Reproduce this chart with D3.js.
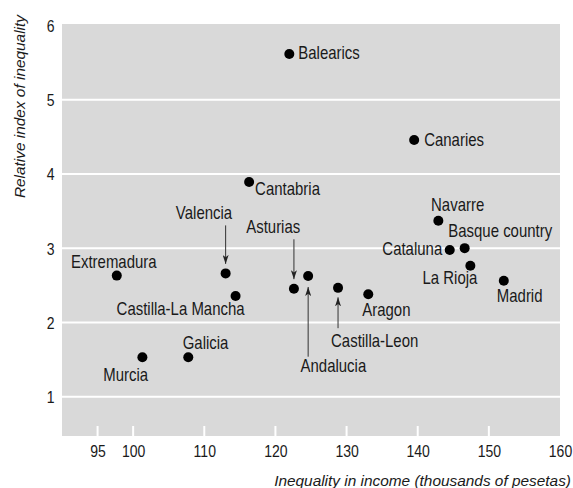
<!DOCTYPE html>
<html>
<head>
<meta charset="utf-8">
<script src="https://cdn.jsdelivr.net/npm/d3@7"></script>
<style>
  html, body { margin: 0; padding: 0; background: #fff; }
  svg { display: block; }
  text { font-family: "Liberation Sans", Arial, sans-serif; fill: #1a1a1a; }
</style>
</head>
<body>
<div id="chart"></div>
<script>
// Régions d'Espagne : revenu (milliers de pesetas) vs indice relatif d'inégalité
const regions = ["Balearics", "Canaries", "Cantabria", "Navarre", "Basque country", "Cataluna",
  "La Rioja", "Madrid", "Aragon", "Castilla-Leon", "Andalucia", "Asturias", "Valencia",
  "Castilla-La Mancha", "Extremadura", "Murcia", "Galicia"];
const income = [121.95, 139.5, 116.3, 142.9, 146.6, 144.5,
  147.4, 152.1, 133.05, 128.8, 124.6, 122.6, 113.0,
  114.4, 97.7, 101.3, 107.75];
const inequality = [5.615, 4.457, 3.89, 3.37, 3.0, 2.975,
  2.764, 2.56, 2.378, 2.465, 2.625, 2.454, 2.66,
  2.356, 2.63, 1.53, 1.53];
const xTicks = [95, 100, 110, 120, 130, 140, 150, 160];
const yTicks = [1, 2, 3, 4, 5, 6];

// placement des étiquettes (décalage par rapport au point), et flèches éventuelles
const labelPos = {
  "Balearics":          { dx: 9,    dy: 5.5,  anchor: "start" },
  "Canaries":           { dx: 10,   dy: 6,    anchor: "start" },
  "Cantabria":          { dx: 6,    dy: 13,   anchor: "start" },
  "Navarre":            { dx: -7.3, dy: -10,  anchor: "start" },
  "Basque country":     { dx: -16.4,dy: -11.6,anchor: "start" },
  "Cataluna":           { dx: -7.5, dy: 5,    anchor: "end" },
  "La Rioja":           { dx: 7,    dy: 18.3, anchor: "end" },
  "Madrid":             { dx: -7,   dy: 21,   anchor: "start" },
  "Aragon":             { dx: -6,   dy: 22,   anchor: "start" },
  "Castilla-Leon":      { dx: -7,   dy: 58.7, anchor: "start", arrow: [40.3, 9.5] },
  "Andalucia":          { dx: -7.6, dy: 95.7, anchor: "start", arrow: [80.7, 11] },
  "Asturias":           { dx: 6.3,  dy: -55.4,anchor: "end",   arrow: [-49.4, -9.5] },
  "Valencia":           { dx: 6.5,  dy: -54,  anchor: "end",   arrow: [-48, -9.5] },
  "Castilla-La Mancha": { dx: 9,    dy: 19,   anchor: "end" },
  "Extremadura":        { dx: -3,   dy: -7.5, anchor: "middle" },
  "Murcia":             { dx: 5.7,  dy: 24,   anchor: "end" },
  "Galicia":            { dx: -5.6, dy: -8,   anchor: "start" }
};

const width = 573, height = 488;
const plot = { left: 62, right: 560, top: 24, bottom: 436 };
const squeeze = 0.85; // police étroite simulée

// resserre horizontalement un texte autour de son point d'ancrage
function narrow(sel) {
  sel.each(function () {
    const t = d3.select(this);
    const tx = +t.attr("x") || 0, ty = +t.attr("y") || 0;
    t.attr("x", 0).attr("y", 0)
      .attr("transform", `translate(${tx},${ty}) scale(${squeeze},1)`);
  });
}

const svg = d3.select("#chart").append("svg")
  .attr("width", width)
  .attr("height", height);

svg.append("defs").append("marker")
  .attr("id", "head")
  .attr("viewBox", "0 0 10 10")
  .attr("preserveAspectRatio", "none")
  .attr("refX", 10).attr("refY", 5)
  .attr("markerWidth", 9).attr("markerHeight", 6)
  .attr("markerUnits", "userSpaceOnUse")
  .attr("orient", "auto")
  .append("path")
  .attr("d", "M0,0 L10,5 L0,10 L2.5,5 Z")
  .attr("fill", "#222");

const x = d3.scaleLinear().domain([90, 160]).range([plot.left, plot.right]);
const y = d3.scaleLinear().domain([0.47, 6]).range([plot.bottom, 25.4]);

// fond gris
svg.append("rect")
  .attr("x", plot.left).attr("y", plot.top)
  .attr("width", plot.right - plot.left)
  .attr("height", plot.bottom - plot.top)
  .attr("fill", "#d9d9d9");

// lignes horizontales blanches
svg.append("g")
  .selectAll("line")
  .data(yTicks.filter(d => d < 6))
  .join("line")
  .attr("x1", plot.left).attr("x2", plot.right)
  .attr("y1", d => y(d)).attr("y2", d => y(d))
  .attr("stroke", "#fff")
  .attr("stroke-width", 2);

// petits repères blancs en bas
svg.append("g")
  .selectAll("line")
  .data(xTicks.filter(d => d < 160))
  .join("line")
  .attr("x1", d => x(d)).attr("x2", d => x(d))
  .attr("y1", plot.bottom - 10).attr("y2", plot.bottom)
  .attr("stroke", "#fff")
  .attr("stroke-width", 2);

// Axe X
const xAxis = svg.append("g")
  .attr("transform", `translate(0,${plot.bottom})`)
  .call(d3.axisBottom(x).tickValues(xTicks).tickSize(0).tickFormat(d3.format("d")));
xAxis.select(".domain").remove();
xAxis.attr("font-family", null).attr("font-size", null);
xAxis.selectAll("text")
  .attr("fill", null)
  .attr("y", 20.5)
  .attr("dy", null)
  .style("font-size", "16.5px")
  .call(narrow);

// Axe Y
const yAxis = svg.append("g")
  .attr("transform", `translate(${plot.left},0)`)
  .call(d3.axisLeft(y).tickValues(yTicks).tickSize(0).tickFormat(d3.format("d")));
yAxis.select(".domain").remove();
yAxis.attr("font-family", null).attr("font-size", null);
yAxis.selectAll("text")
  .attr("fill", null)
  .attr("x", -7.5)
  .attr("dy", "0.36em")
  .style("font-size", "16.5px")
  .call(narrow);

const pts = regions.map((r, i) => ({ name: r, px: x(income[i]), py: y(inequality[i]), lab: labelPos[r] }));

// flèches
svg.append("g")
  .selectAll("line")
  .data(pts.filter(d => d.lab.arrow))
  .join("line")
  .attr("x1", d => d.px).attr("x2", d => d.px)
  .attr("y1", d => d.py + d.lab.arrow[0])
  .attr("y2", d => d.py + d.lab.arrow[1])
  .attr("stroke", "#333")
  .attr("stroke-width", 1)
  .attr("marker-end", "url(#head)");

// points
svg.append("g")
  .selectAll("circle")
  .data(pts)
  .join("circle")
  .attr("cx", d => d.px)
  .attr("cy", d => d.py)
  .attr("r", 5)
  .attr("fill", "#000");

// étiquettes
svg.append("g")
  .selectAll("text")
  .data(pts)
  .join("text")
  .attr("x", d => d.px + d.lab.dx)
  .attr("y", d => d.py + d.lab.dy)
  .attr("text-anchor", d => d.lab.anchor)
  .style("font-size", "17.6px")
  .text(d => d.name)
  .call(narrow);

// titres d'axes
svg.append("text")
  .attr("x", 571)
  .attr("y", 486)
  .attr("text-anchor", "end")
  .style("font-size", "15.4px")
  .style("font-style", "italic")
  .text("Inequality in income (thousands of pesetas)");

svg.append("text")
  .attr("transform", "rotate(-90)")
  .attr("x", -15)
  .attr("y", 25)
  .attr("text-anchor", "end")
  .style("font-size", "15.4px")
  .style("font-style", "italic")
  .text("Relative index of inequality");
</script>
</body>
</html>
